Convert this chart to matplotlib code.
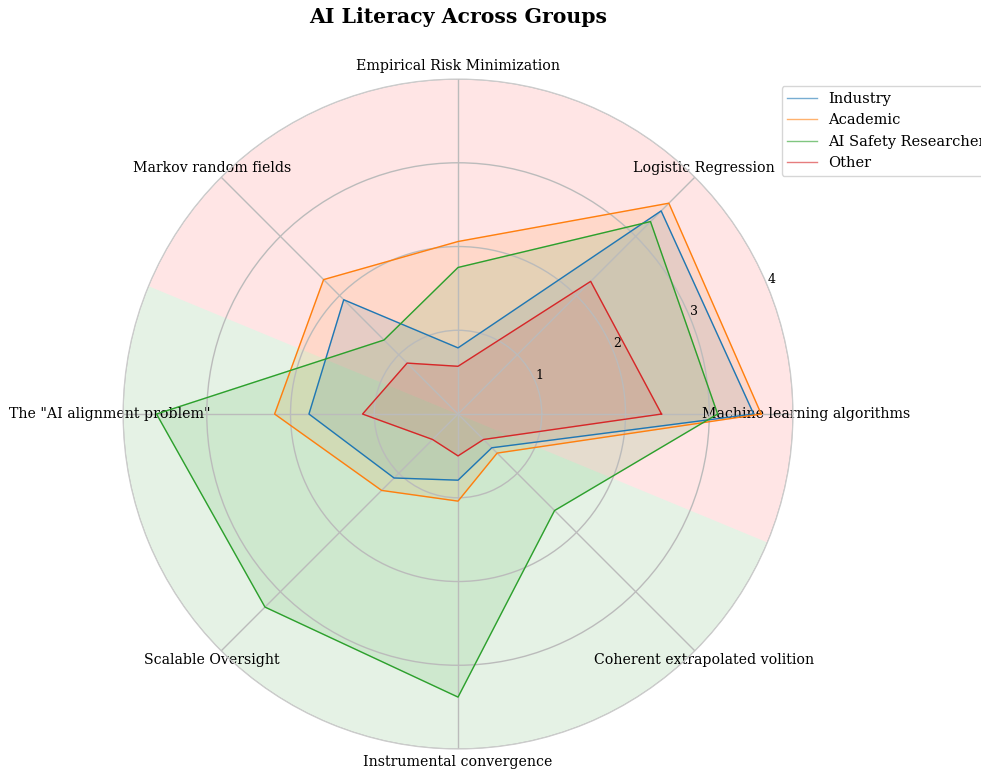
import numpy as np
import matplotlib
matplotlib.use('Agg')
from matplotlib import pyplot as plt

plt.rcParams['font.family'] = 'DejaVu Serif'

categories = ['Machine learning algorithms', 'Logistic Regression',
              'Empirical Risk Minimization', 'Markov random fields',
              'The "AI alignment problem"', 'Scalable Oversight',
              'Instrumental convergence', 'Coherent extrapolated volition']

groups = ['Industry', 'Academic', 'AI Safety Researcher', 'Other']
industry = [3.53, 3.43, 0.79, 1.93, 1.78, 1.08, 0.79, 0.57]
academic = [3.62, 3.56, 2.06, 2.27, 2.19, 1.29, 1.04, 0.66]
safety = [3.10, 3.25, 1.75, 1.25, 3.60, 3.26, 3.38, 1.63]
other = [2.43, 2.24, 0.57, 0.86, 1.14, 0.43, 0.50, 0.43]
colors = ['tab:blue', 'tab:orange', 'tab:green', 'tab:red']

n = len(categories)
angles = np.linspace(0, 2 * np.pi, n, endpoint=False)

fig = plt.figure(figsize=(9.81, 7.71), dpi=100)
ax = fig.add_axes([0.1254, 0.0285, 0.683, 0.869], polar=True)

# background halves
t1 = np.linspace(-np.pi / 8, 7 * np.pi / 8, 200)
t2 = np.linspace(7 * np.pi / 8, 15 * np.pi / 8, 200)
ax.fill_between(t1, 0, 4, color='red', alpha=0.1, zorder=0, linewidth=0)
ax.fill_between(t2, 0, 4, color='green', alpha=0.1, zorder=0, linewidth=0)

for name, vals, c in zip(groups, [industry, academic, safety, other], colors):
    v = vals + vals[:1]
    a = list(angles) + [angles[0]]
    ax.plot(a, v, color=c, linewidth=1, label=name)
    ax.fill(a, v, color=c, alpha=0.12)

ax.set_ylim(0, 4)
ax.set_yticks([1, 2, 3, 4])
ax.set_yticklabels(['1', '2', '3', '4'], fontsize=9)
ax.set_xticks(angles)
ax.set_xticklabels(categories, fontsize=10.2)
ax.tick_params(axis='x', pad=-1)
ax.grid(color='#bbbbbb', linewidth=1)
ax.spines['polar'].set_color('#cccccc')
ax.spines['polar'].set_linewidth(0.8)

ax.set_title('AI Literacy Across Groups', fontsize=14.7, fontweight='bold', pad=40)

leg = ax.legend(loc='upper left', bbox_to_anchor=(0.972, 1.0), fontsize=10.5)
for h in leg.legend_handles:
    h.set_alpha(0.6)

plt.savefig('out.png', dpi=100)
